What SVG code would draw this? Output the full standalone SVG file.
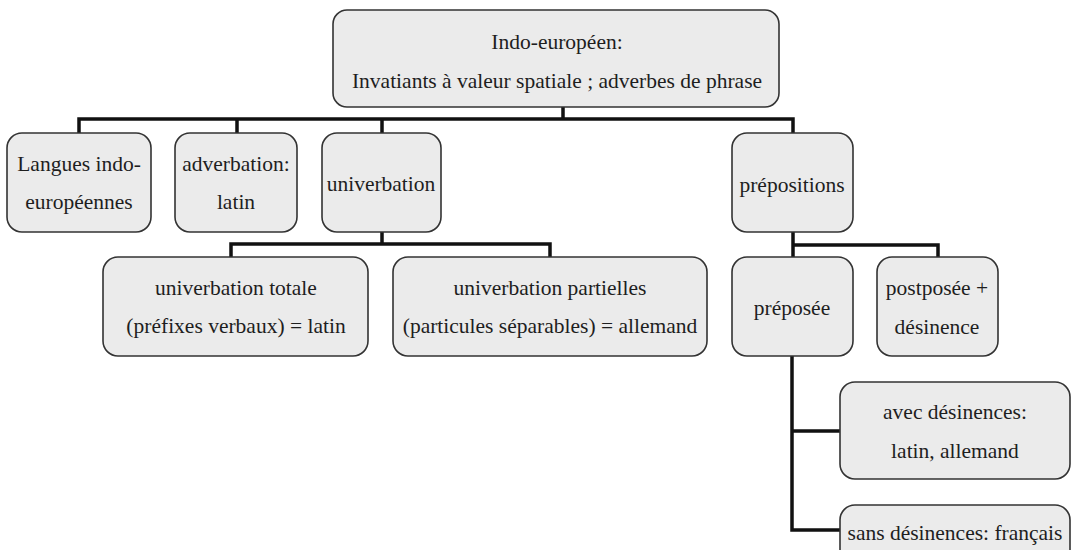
<svg xmlns="http://www.w3.org/2000/svg" width="1072" height="550" viewBox="0 0 1072 550">
<style>
.box{fill:#ebebeb;stroke:#333;stroke-width:1.6}
.t{font-family:"Liberation Serif","Times New Roman",serif;font-size:21.5px;fill:#1e1e1e;text-anchor:middle}
.c{fill:none;stroke:#111;stroke-width:3.5;stroke-linejoin:miter}
</style>
<rect width="1072" height="550" fill="#fff"/>
<g id="connectors">
<path class="c" d="M563 107V119M79 133V119H793V133M237 119V133M382 119V133"/>
<path class="c" d="M382 232V244M231 257V244H550V257"/>
<path class="c" d="M793 232V245H938V257M793 245V257"/>
<path class="c" d="M792 356V530H840M792 431H840"/>
</g>
<g id="n-root"><rect class="box" x="333" y="10" width="446" height="97" rx="14"/>
<text class="t" x="557" y="49">Indo-européen:</text>
<text class="t" x="557" y="88">Invatiants à valeur spatiale ; adverbes de phrase</text></g>
<g id="n-langues"><rect class="box" x="7" y="133" width="144" height="99" rx="15"/>
<text class="t" x="79" y="171">Langues indo-</text>
<text class="t" x="79" y="209">européennes</text></g>
<g id="n-adverbation"><rect class="box" x="175" y="133" width="122" height="99" rx="15"/>
<text class="t" x="236" y="171">adverbation:</text>
<text class="t" x="236" y="209">latin</text></g>
<g id="n-univerbation"><rect class="box" x="322" y="133" width="119" height="99" rx="15"/>
<text class="t" x="381" y="191">univerbation</text></g>
<g id="n-prepositions"><rect class="box" x="732" y="133" width="121" height="99" rx="15"/>
<text class="t" x="792" y="192">prépositions</text></g>
<g id="n-totale"><rect class="box" x="103" y="257" width="265" height="99" rx="15"/>
<text class="t" x="236" y="295">univerbation totale</text>
<text class="t" x="236" y="333">(préfixes verbaux) = latin</text></g>
<g id="n-partielles"><rect class="box" x="393" y="257" width="314" height="99" rx="15"/>
<text class="t" x="550" y="295">univerbation partielles</text>
<text class="t" x="550" y="333">(particules séparables) = allemand</text></g>
<g id="n-preposee"><rect class="box" x="732" y="257" width="121" height="99" rx="15"/>
<text class="t" x="792" y="315">préposée</text></g>
<g id="n-postposee"><rect class="box" x="877" y="257" width="121" height="99" rx="15"/>
<text class="t" x="937" y="295">postposée +</text>
<text class="t" x="937" y="334">désinence</text></g>
<g id="n-avec"><rect class="box" x="840" y="382" width="230" height="97" rx="15"/>
<text class="t" x="955" y="419">avec désinences:</text>
<text class="t" x="955" y="458">latin, allemand</text></g>
<g id="n-sans"><rect class="box" x="840" y="505" width="230" height="97" rx="15"/>
<text class="t" x="955" y="540">sans désinences: français</text></g>
</svg>
